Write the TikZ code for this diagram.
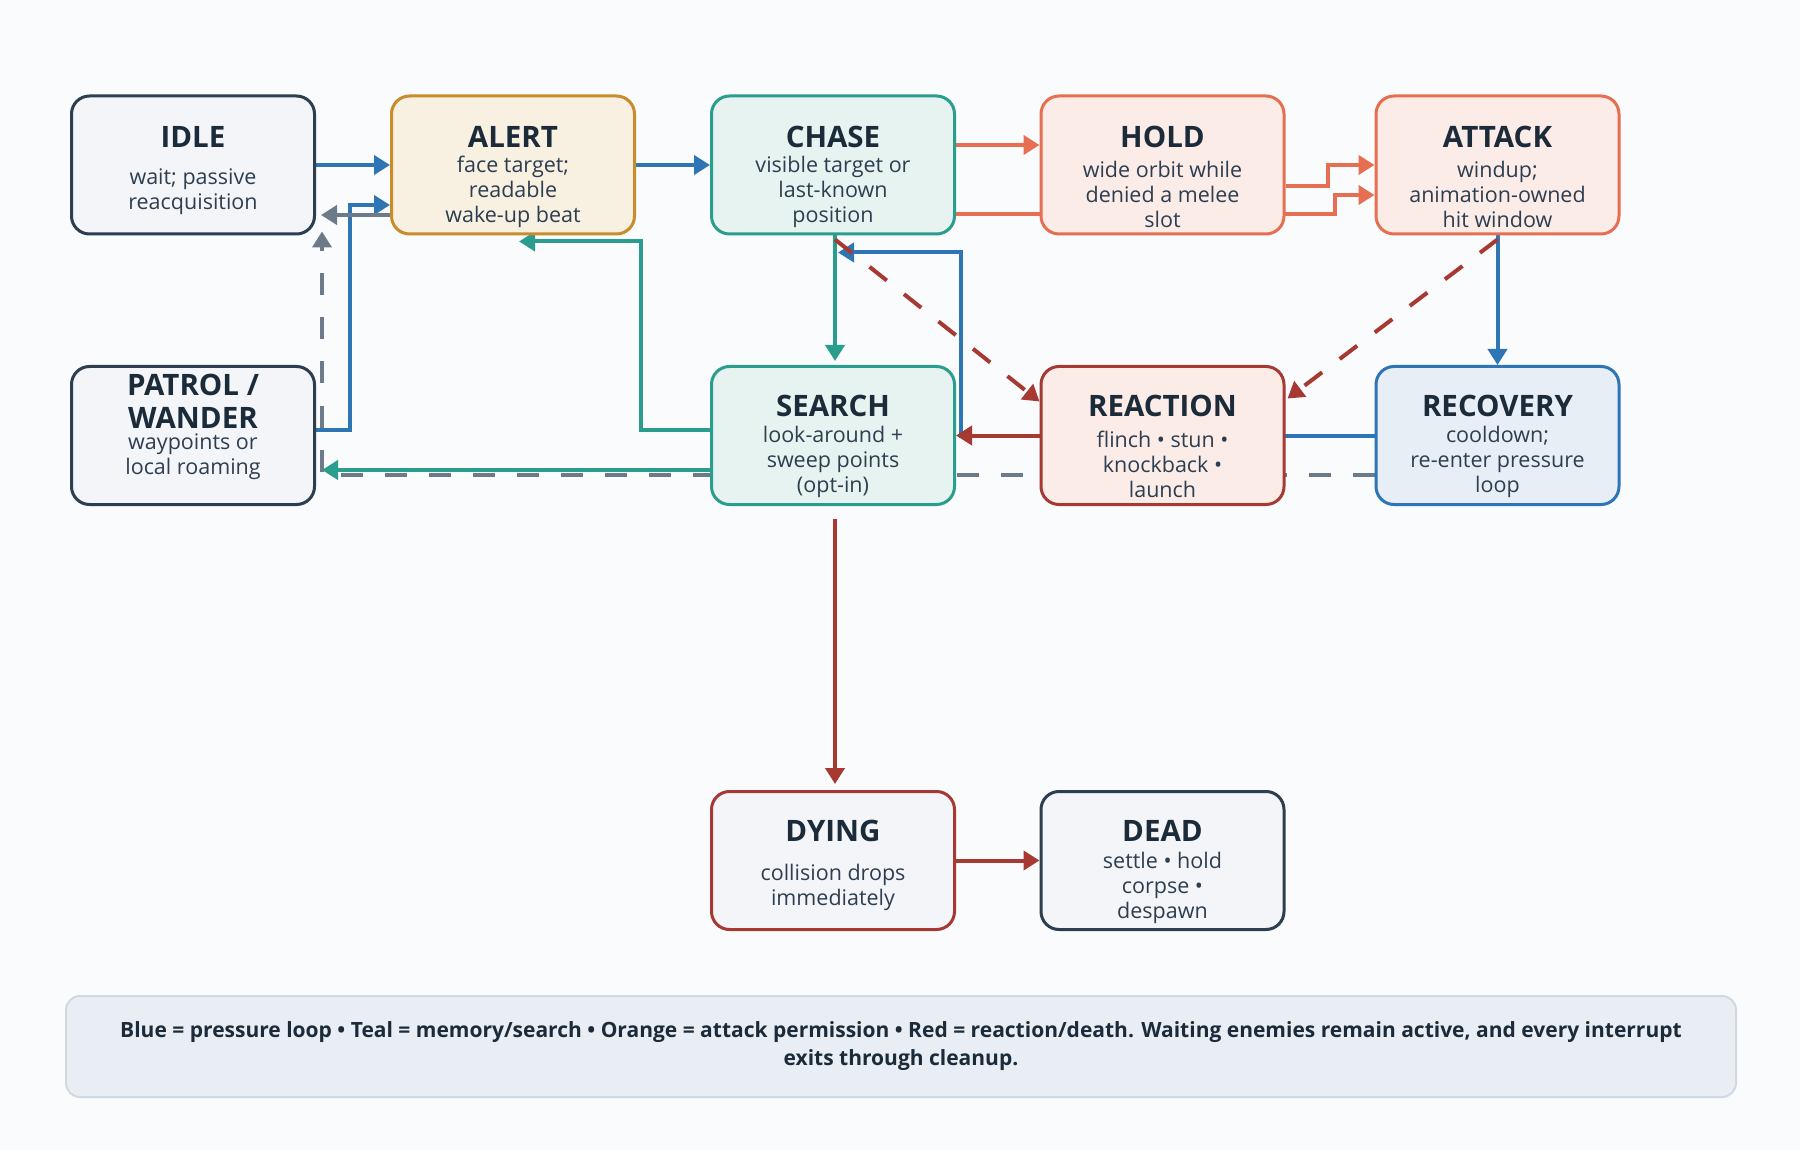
\documentclass[tikz,border=0pt]{standalone}
\usepackage{fontspec}
\setmainfont{Open Sans}
\usetikzlibrary{arrows.meta,calc}
\definecolor{bgc}{HTML}{F9FBFD}
\definecolor{navy}{HTML}{2C3E50}
\definecolor{gold}{HTML}{C98B2B}
\definecolor{teal}{HTML}{2A9D8F}
\definecolor{orng}{HTML}{E76F51}
\definecolor{redc}{HTML}{A63A32}
\definecolor{blu}{HTML}{2E75B6}
\definecolor{gry}{HTML}{6C7A89}
\definecolor{ttlc}{HTML}{1B2B3A}
\definecolor{bdyc}{HTML}{2C3E50}
\definecolor{fgray}{HTML}{F3F5F8}
\definecolor{fgold}{HTML}{F8F0E1}
\definecolor{fteal}{HTML}{E6F3F0}
\definecolor{forng}{HTML}{FCECE7}
\definecolor{fred}{HTML}{FBECE8}
\definecolor{fblue}{HTML}{E8EEF6}
\definecolor{ffoot}{HTML}{E9EEF5}
\definecolor{dfoot}{HTML}{D0D9E2}
\pgfdeclarelayer{bgfill}
\pgfdeclarelayer{edges}
\pgfsetlayers{bgfill,edges,main}
\begin{document}
\begin{tikzpicture}[x=1pt,y=-1pt,
  stbox/.style={rectangle, rounded corners=18pt, line width=3pt, minimum width=243pt, minimum height=138pt, inner sep=0pt},
  ttl/.style={font=\fontsize{29.5}{33}\selectfont\bfseries, text=ttlc, align=center, inner sep=0pt},
  bdy/.style={font=\fontsize{21.5}{25}\selectfont, text=bdyc, align=center, inner sep=0pt},
  conn/.style={line width=4pt, -{Triangle[length=16pt,width=19pt]}},
  dsh/.style={dash pattern=on 22pt off 22pt},
  footer/.style={rectangle, rounded corners=14pt, line width=2pt, draw=dfoot, fill=ffoot, minimum width=1670pt, minimum height=101pt, align=center, font=\fontsize{21}{28}\selectfont\bfseries, text=ttlc}
]
\begin{pgfonlayer}{bgfill}
\fill[bgc] (0,0) rectangle (1800,1150);
\end{pgfonlayer}
\useasboundingbox (0,0) rectangle (1800,1150);

% boxes
\node[stbox, draw=navy, fill=fgray] (idle) at (193,165) {};
\node[stbox, draw=gold, fill=fgold] (alert) at (513,165) {};
\node[stbox, draw=teal, fill=fteal] (chase) at (833,165) {};
\node[stbox, draw=orng, fill=forng] (hold) at (1162.5,165) {};
\node[stbox, draw=orng, fill=forng] (attack) at (1497.5,165) {};
\node[stbox, draw=navy, fill=fgray] (patrol) at (193,435.5) {};
\node[stbox, draw=teal, fill=fteal] (search) at (833,435.5) {};
\node[stbox, draw=redc, fill=fred] (reaction) at (1162.5,435.5) {};
\node[stbox, draw=blu, fill=fblue] (recovery) at (1497.5,435.5) {};
\node[stbox, draw=redc, fill=fgray] (dying) at (833,860.5) {};
\node[stbox, draw=navy, fill=fgray] (dead) at (1162.5,860.5) {};

% texts
\node[ttl] (idle-t) at ($(idle)+(0,-28)$) {IDLE};
\node[bdy] (idle-b) at ($(idle)+(0,26.5)$) {wait; passive\\reacquisition};
\node[ttl] (alert-t) at ($(alert)+(0,-28)$) {ALERT};
\node[bdy] (alert-b) at ($(alert)+(0,27)$) {face target;\\readable\\wake-up beat};
\node[ttl] (chase-t) at ($(chase)+(0,-28)$) {CHASE};
\node[bdy] (chase-b) at ($(chase)+(0,27)$) {visible target or\\last-known\\position};
\node[ttl] (hold-t) at ($(hold)+(0,-28)$) {HOLD};
\node[bdy] (hold-b) at ($(hold)+(0,29)$) {wide orbit while\\denied a melee\\slot};
\node[ttl] (attack-t) at ($(attack)+(0,-28)$) {ATTACK};
\node[bdy] (attack-b) at ($(attack)+(0,29.5)$) {windup;\\animation-owned\\hit window};
\node[ttl] (patrol-t) at ($(patrol)+(0,-34)$) {PATROL /\\WANDER};
\node[bdy] (patrol-b) at ($(patrol)+(0,21.5)$) {waypoints or\\local roaming};
\node[ttl] (search-t) at ($(search)+(0,-29.5)$) {SEARCH};
\node[bdy] (search-b) at ($(search)+(0,26)$) {look-around +\\sweep points\\(opt-in)};
\node[ttl] (reaction-t) at ($(reaction)+(0,-29.5)$) {REACTION};
\node[bdy] (reaction-b) at ($(reaction)+(0,28.5)$) {flinch • stun •\\knockback •\\launch};
\node[ttl] (recovery-t) at ($(recovery)+(0,-29.5)$) {RECOVERY};
\node[bdy] (recovery-b) at ($(recovery)+(0,26)$) {cooldown;\\re-enter pressure\\loop};
\node[ttl] (dying-t) at ($(dying)+(0,-29.5)$) {DYING};
\node[bdy] (dying-b) at ($(dying)+(0,27)$) {collision drops\\immediately};
\node[ttl] (dead-t) at ($(dead)+(0,-29.5)$) {DEAD};
\node[bdy] (dead-b) at ($(dead)+(0,27)$) {settle • hold\\corpse •\\despawn};

\node[footer] (legend) at (901,1046.5) {Blue = pressure loop • Teal = memory/search • Orange = attack permission • Red = reaction/death. Waiting enemies remain active, and every interrupt\\exits through cleanup.};

% connectors
\begin{pgfonlayer}{edges}
% gray dashed cleanup path
\draw[conn, dsh, gry] ($(recovery.west)+(0,39.5)$) -| ($(idle.south east)+(6,-4)$);
% blue pressure loop
\draw[conn, blu] (idle.east) -- (alert.west);
\draw[conn, blu] (alert.east) -- (chase.west);
\draw[conn, blu] ($(patrol.east)+(0,-5.5)$) -| ($(alert.west)+(-40,40)$) -- ($(alert.west)+(0,40)$);
\draw[conn, blu] (recovery.west) -| ($(chase.south)+(128,17)$) -- ($(chase.south)+(5,17)$);
\draw[conn, blu] (attack.south) -- (recovery.north);
% gray return
\draw[conn, gry, shorten >=5pt] ($(alert.west)+(0,50)$) -- ($(idle.east)+(0,50)$);
% teal
\draw[conn, teal, shorten >=4pt] ($(chase.south)+(2,0)$) -- ($(search.north)+(2,0)$);
\draw[conn, teal] ($(search.west)+(0,-5.5)$) -| ($(alert.south)+(128,6)$) -- ($(alert.south)+(6,6)$);
\draw[conn, teal] ($(search.west)+(0,34.5)$) -- ($(patrol.east)+(6,34.5)$);
% orange
\draw[conn, orng] ($(chase.east)+(0,-20)$) -- ($(hold.west)+(0,-20)$);
\draw[conn, orng] ($(chase.east)+(0,49)$) -| ($(attack.west)+(-40,30)$) -- ($(attack.west)+(0,30)$);
\draw[conn, orng] ($(hold.east)+(0,21)$) -| ($(attack.west)+(-47,0)$) -- (attack.west);
% red
\draw[conn, redc] (reaction.west) -- (search.east);
\draw[conn, redc, dsh] ($(chase.south)+(2,4)$) -- ($(reaction.west)+(0,-34)$);
\draw[conn, redc, dsh] ($(attack.south)+(0,4)$) -- ($(reaction.east)+(2,-37)$);
\draw[conn, redc, shorten >=6pt] ($(search.south)+(2,13)$) -- ($(dying.north)+(2,0)$);
\draw[conn, redc] (dying.east) -- (dead.west);
\end{pgfonlayer}
\end{tikzpicture}
\end{document}
